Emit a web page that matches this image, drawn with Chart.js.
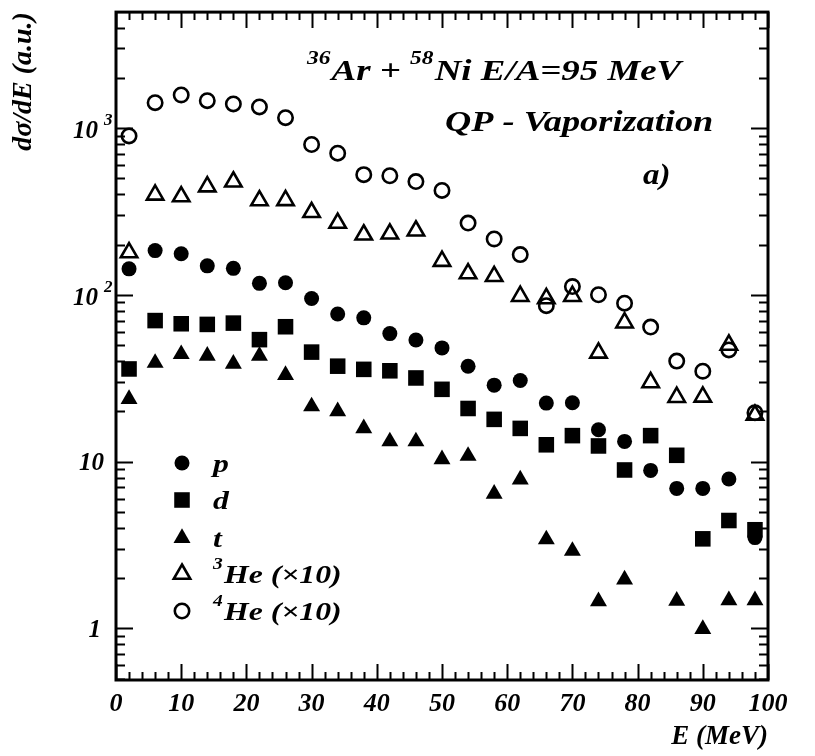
<!DOCTYPE html>
<html>
<head>
<meta charset="utf-8">
<script src="https://cdn.jsdelivr.net/npm/chart.js@4/dist/chart.umd.min.js"></script>
<style>
  html, body { margin: 0; padding: 0; background: #fff; }
  #wrap { width: 815px; height: 756px; }
</style>
</head>
<body>
<div id="wrap"><canvas id="chart" width="815" height="756"></canvas></div>
<script>
// energy bins (MeV)
const energies = [2, 6, 10, 14, 18, 22, 26, 30, 34, 38, 42, 46, 50, 54, 58, 62, 66, 70, 74, 78, 82, 86, 90, 94, 98];

const protons = [143, 184, 176, 149, 144, 117, 118, 95, 76.6, 72.7, 58.5, 53.5, 48, 37.3, 28.7, 30.6, 22.4, 22.5, 15.5, 13.2, 8.85, 6.9, 6.9, 7.85, 3.5];
const deuterons = [35.9, 70, 67, 66.4, 67.6, 53.8, 64.3, 45.3, 37.3, 35.7, 35, 31.7, 27.1, 20.8, 17.9, 15.8, 12.6, 14.3, 12.4, 8.9, 14.3, 10.9, 3.44, 4.43, 3.9];
const tritons = [23.7, 39, 44, 43, 38.5, 43, 33, 21.4, 20, 15.8, 13.2, 13.2, 10.3, 10.8, 6.4, 7.8, 3.41, 2.91, 1.45, 1.96, null, 1.46, 0.99, 1.47, 1.47];
const helium3 = [179, 397, 388, 445, 476, 367, 368, 312, 269, 229, 232, 242, 159, 134, 129, 98, 95, 98, 44.8, 68, 29.8, 24.3, 24.4, 50, 19];
const helium4 = [896, 1418, 1577, 1457, 1393, 1337, 1153, 796, 706, 525, 517, 477, 422, 269, 216, 174, 86, 112, 100, 89, 64, 40, 34.8, 46.7, 19.6];

const xTickStep = 10;
const yMajorTicks = [1, 10, 100, 1000];
const yTickLabels = [['1', ''], ['10', ''], ['10', '2'], ['10', '3']];

const legendNames = [['', 'p'], ['', 'd'], ['', 't'], ['3', 'He (\u00d710)'], ['4', 'He (\u00d710)']];

const serif = "'Liberation Serif', 'DejaVu Serif', serif";

function pts(values) {
    return energies.map((e, i) => ({ x: e, y: values[i] })).filter(p => p.y !== null);
}

// draw text with superscripts, stretched a bit to look like the original typeface
function drawRich(ctx, parts, x, y, size, stretch) {
    ctx.save();
    ctx.translate(x, y);
    ctx.scale(stretch, 1);
    ctx.fillStyle = '#000';
    ctx.textBaseline = 'alphabetic';
    ctx.textAlign = 'left';
    let cx = 0;
    parts.forEach(p => {
        const s = p.sup ? Math.round(size * 0.62) : size;
        ctx.font = 'bold italic ' + s + 'px ' + serif;
        ctx.fillText(p.t, cx, p.sup ? -size * 0.55 : 0);
        cx += ctx.measureText(p.t).width + (p.sup ? 1 : 0);
    });
    ctx.restore();
}

const datasets = [
    { label: 'p', data: pts(protons), pointStyle: 'circle', pointRadius: 7.5, backgroundColor: '#000', borderColor: '#000', borderWidth: 0 },
    { label: 'd', data: pts(deuterons), pointStyle: 'rect', pointRadius: 11, backgroundColor: '#000', borderColor: '#000', borderWidth: 0 },
    { label: 't', data: pts(tritons), pointStyle: 'triangle', pointRadius: 9.8, backgroundColor: '#000', borderColor: '#000', borderWidth: 0 },
    { label: '3He', data: pts(helium3), pointStyle: 'triangle', pointRadius: 9.5, backgroundColor: 'rgba(0,0,0,0)', borderColor: '#000', borderWidth: 2.6 },
    { label: '4He', data: pts(helium4), pointStyle: 'circle', pointRadius: 7.2, backgroundColor: 'rgba(0,0,0,0)', borderColor: '#000', borderWidth: 2.6 }
];
datasets.forEach(d => { d.pointHoverRadius = d.pointRadius; d.showLine = false; });

const framePlugin = {
    id: 'frame',
    afterDraw(chart) {
        const ctx = chart.ctx;
        const a = chart.chartArea;
        const xs = chart.scales.x, ys = chart.scales.y;
        ctx.save();
        ctx.strokeStyle = '#000';

        // inward ticks on all four sides
        ctx.lineWidth = 2;
        ctx.beginPath();
        for (let v = xs.min; v <= xs.max; v += 2) {
            const px = Math.round(xs.getPixelForValue(v)) + 0.5;
            const len = v % xTickStep === 0 ? 16 : 8;
            ctx.moveTo(px, a.bottom); ctx.lineTo(px, a.bottom - len);
            ctx.moveTo(px, a.top); ctx.lineTo(px, a.top + len);
        }
        for (let e = -1; e <= 3; e++) {
            for (let k = 1; k <= 9; k++) {
                const v = k * Math.pow(10, e);
                if (v < ys.min || v > ys.max) continue;
                const py = Math.round(ys.getPixelForValue(v)) + 0.5;
                const len = k === 1 ? 17 : 9;
                ctx.moveTo(a.left, py); ctx.lineTo(a.left + len, py);
                ctx.moveTo(a.right, py); ctx.lineTo(a.right - len, py);
            }
        }
        ctx.stroke();

        ctx.lineWidth = 3;
        ctx.strokeRect(a.left, a.top, a.right - a.left, a.bottom - a.top);

        // y tick labels with superscript exponents
        ctx.fillStyle = '#000';
        ctx.textBaseline = 'middle';
        yMajorTicks.forEach((v, i) => {
            const py = ys.getPixelForValue(v);
            const [base, sup] = yTickLabels[i];
            ctx.font = 'bold italic 25px ' + serif;
            if (sup) {
                ctx.textAlign = 'right';
                ctx.fillText(base, 98, py + 4);
                ctx.font = 'bold italic 17px ' + serif;
                ctx.textAlign = 'left';
                ctx.fillText(sup, 104, py - 7);
            } else {
                ctx.textAlign = 'right';
                ctx.fillText(base, base === '1' ? 101 : 104, py + 2);
            }
        });

        // annotations
        drawRich(ctx, [{ t: '36', sup: true }, { t: 'Ar + ' }, { t: '58', sup: true }, { t: 'Ni E/A=95 MeV' }], 307, 80, 30, 1.23);
        drawRich(ctx, [{ t: 'QP - Vaporization' }], 445, 131, 30, 1.21);
        drawRich(ctx, [{ t: 'a)' }], 643, 184, 30, 1.1);

        // legend
        const markerX = 182, textX = 213;
        const rowY = [463, 500, 538, 574, 611];
        chart.data.datasets.forEach((ds, i) => {
            ctx.fillStyle = ds.backgroundColor;
            ctx.strokeStyle = ds.borderColor;
            ctx.lineWidth = ds.borderWidth;
            Chart.helpers.drawPoint(ctx, { pointStyle: ds.pointStyle, radius: ds.pointRadius, borderWidth: ds.borderWidth, rotation: 0 }, markerX, rowY[i]);
            const [sup, name] = legendNames[i];
            const parts = sup ? [{ t: sup, sup: true }, { t: name }] : [{ t: name }];
            drawRich(ctx, parts, textX, rowY[i] + 9, 26, 1.22);
        });
        ctx.restore();
    }
};

new Chart(document.getElementById('chart'), {
    type: 'scatter',
    data: { datasets: datasets },
    options: {
        responsive: false,
        devicePixelRatio: 1,
        animation: false,
        layout: { padding: { left: 0, right: 47, top: 12, bottom: 0 } },
        plugins: { legend: { display: false }, tooltip: { enabled: false } },
        scales: {
            x: {
                type: 'linear',
                min: 0,
                max: 100,
                grid: { display: false, drawTicks: false },
                border: { display: false },
                ticks: { stepSize: xTickStep, padding: 9, color: '#000', font: { family: serif, size: 26, weight: 'bold', style: 'italic' } },
                title: { display: true, text: 'E (MeV)', align: 'end', color: '#000', padding: { top: 0, bottom: 3 }, font: { family: serif, size: 27, weight: 'bold', style: 'italic' } },
                afterFit: s => { s.height = 76; }
            },
            y: {
                type: 'logarithmic',
                min: 0.49,
                max: 4950,
                grid: { display: false, drawTicks: false },
                border: { display: false },
                ticks: { display: false },
                title: { display: true, text: 'd\u03c3/dE (a.u.)', align: 'end', color: '#000', padding: { top: 7, bottom: 0 }, font: { family: serif, size: 28, weight: 'bold', style: 'italic' } },
                afterFit: s => { s.width = 116; }
            }
        }
    },
    plugins: [framePlugin]
});
</script>
</body>
</html>
